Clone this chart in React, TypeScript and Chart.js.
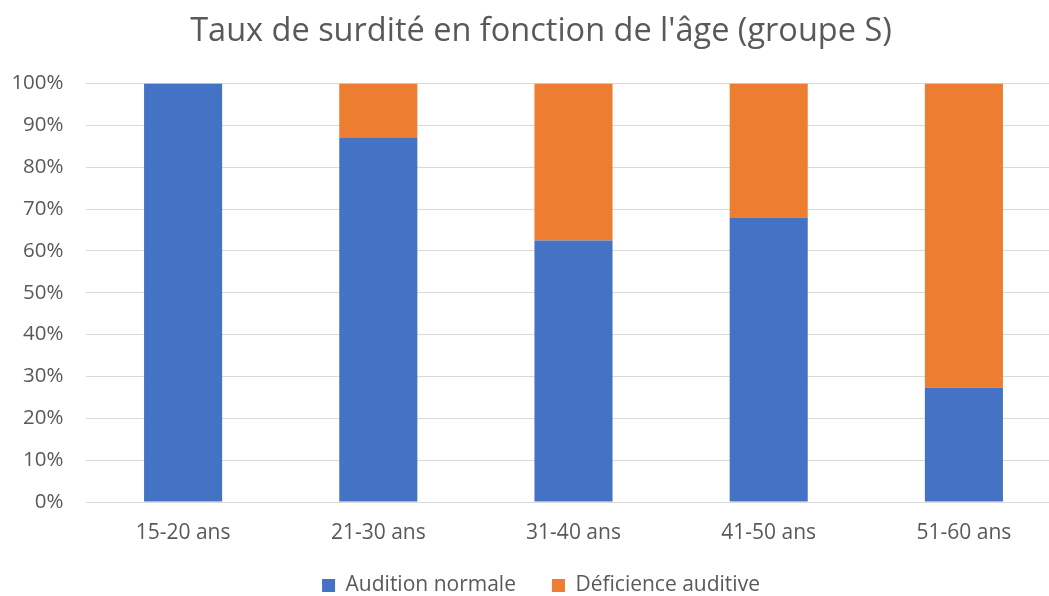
import React, { useEffect, useRef } from "react";
import { Chart, registerables } from "chart.js";

Chart.register(...registerables);

const categories = ["15-20 ans", "21-30 ans", "31-40 ans", "41-50 ans", "51-60 ans"];
const auditionNormale = [100, 87, 62.5, 68, 27.3];
const deficienceAuditive = [0, 13, 37.5, 32, 72.7];
const seriesNames = ["Audition normale", "Déficience auditive"];
const titleText = "Taux de surdité en fonction de l'âge (groupe S)";

const FONT = "'Open Sans', 'DejaVu Sans', sans-serif";
const TEXT = "#595959";

export default function App() {
  const ref = useRef<HTMLCanvasElement | null>(null);

  useEffect(() => {
    if (!ref.current) return;
    const chart = new Chart(ref.current, {
      type: "bar",
      data: {
        labels: categories,
        datasets: [
          {
            label: seriesNames[0],
            data: auditionNormale,
            backgroundColor: "#4472C4",
            borderWidth: 0,
          },
          {
            label: seriesNames[1],
            data: deficienceAuditive,
            backgroundColor: "#ED7D31",
            borderWidth: 0,
          },
        ],
      },
      options: {
        responsive: false,
        maintainAspectRatio: false,
        animation: false,
        layout: { padding: { left: 0, right: 0, top: 12.5, bottom: 8 } },
        datasets: {
          bar: { barPercentage: 0.4, categoryPercentage: 1 },
        },
        plugins: {
          title: {
            display: true,
            text: titleText,
            color: TEXT,
            font: { family: FONT, size: 32.5, weight: "normal" },
            padding: { top: 0, bottom: 32 },
          },
          legend: {
            position: "bottom",
            labels: {
              color: TEXT,
              font: { family: FONT, size: 21 },
              boxWidth: 13,
              boxHeight: 13,
              padding: 36,
            },
          },
          tooltip: { enabled: false },
        },
        scales: {
          x: {
            stacked: true,
            grid: { display: false, drawTicks: false },
            border: { display: false },
            ticks: {
              color: TEXT,
              font: { family: FONT, size: 21 },
              padding: 18,
              maxRotation: 0,
            },
            afterFit: (s: any) => {
              s.height = 37;
            },
          },
          y: {
            stacked: true,
            min: 0,
            max: 100,
            grid: { color: "#d9d9d9", lineWidth: 1, drawTicks: false },
            border: { display: false },
            ticks: {
              stepSize: 10,
              color: TEXT,
              font: { family: FONT, size: 20.5 },
              padding: 22,
              callback: (v: any) => v + "%",
            },
            afterFit: (s: any) => {
              s.width = 85.5;
            },
          },
          yRight: {
            position: "right",
            display: true,
            grid: { display: false, drawTicks: false },
            border: { display: false },
            ticks: { display: false },
            afterFit: (s: any) => {
              s.width = 20.5;
            },
          },
        },
      },
    });
    return () => chart.destroy();
  }, []);

  return (
    <div
      style={{
        position: "absolute",
        left: 0,
        top: 0,
        width: 1049,
        height: 596,
        overflow: "hidden",
        background: "#fff",
      }}
    >
      <canvas ref={ref} width={1082} height={614} style={{ display: "block" }} />
    </div>
  );
}
